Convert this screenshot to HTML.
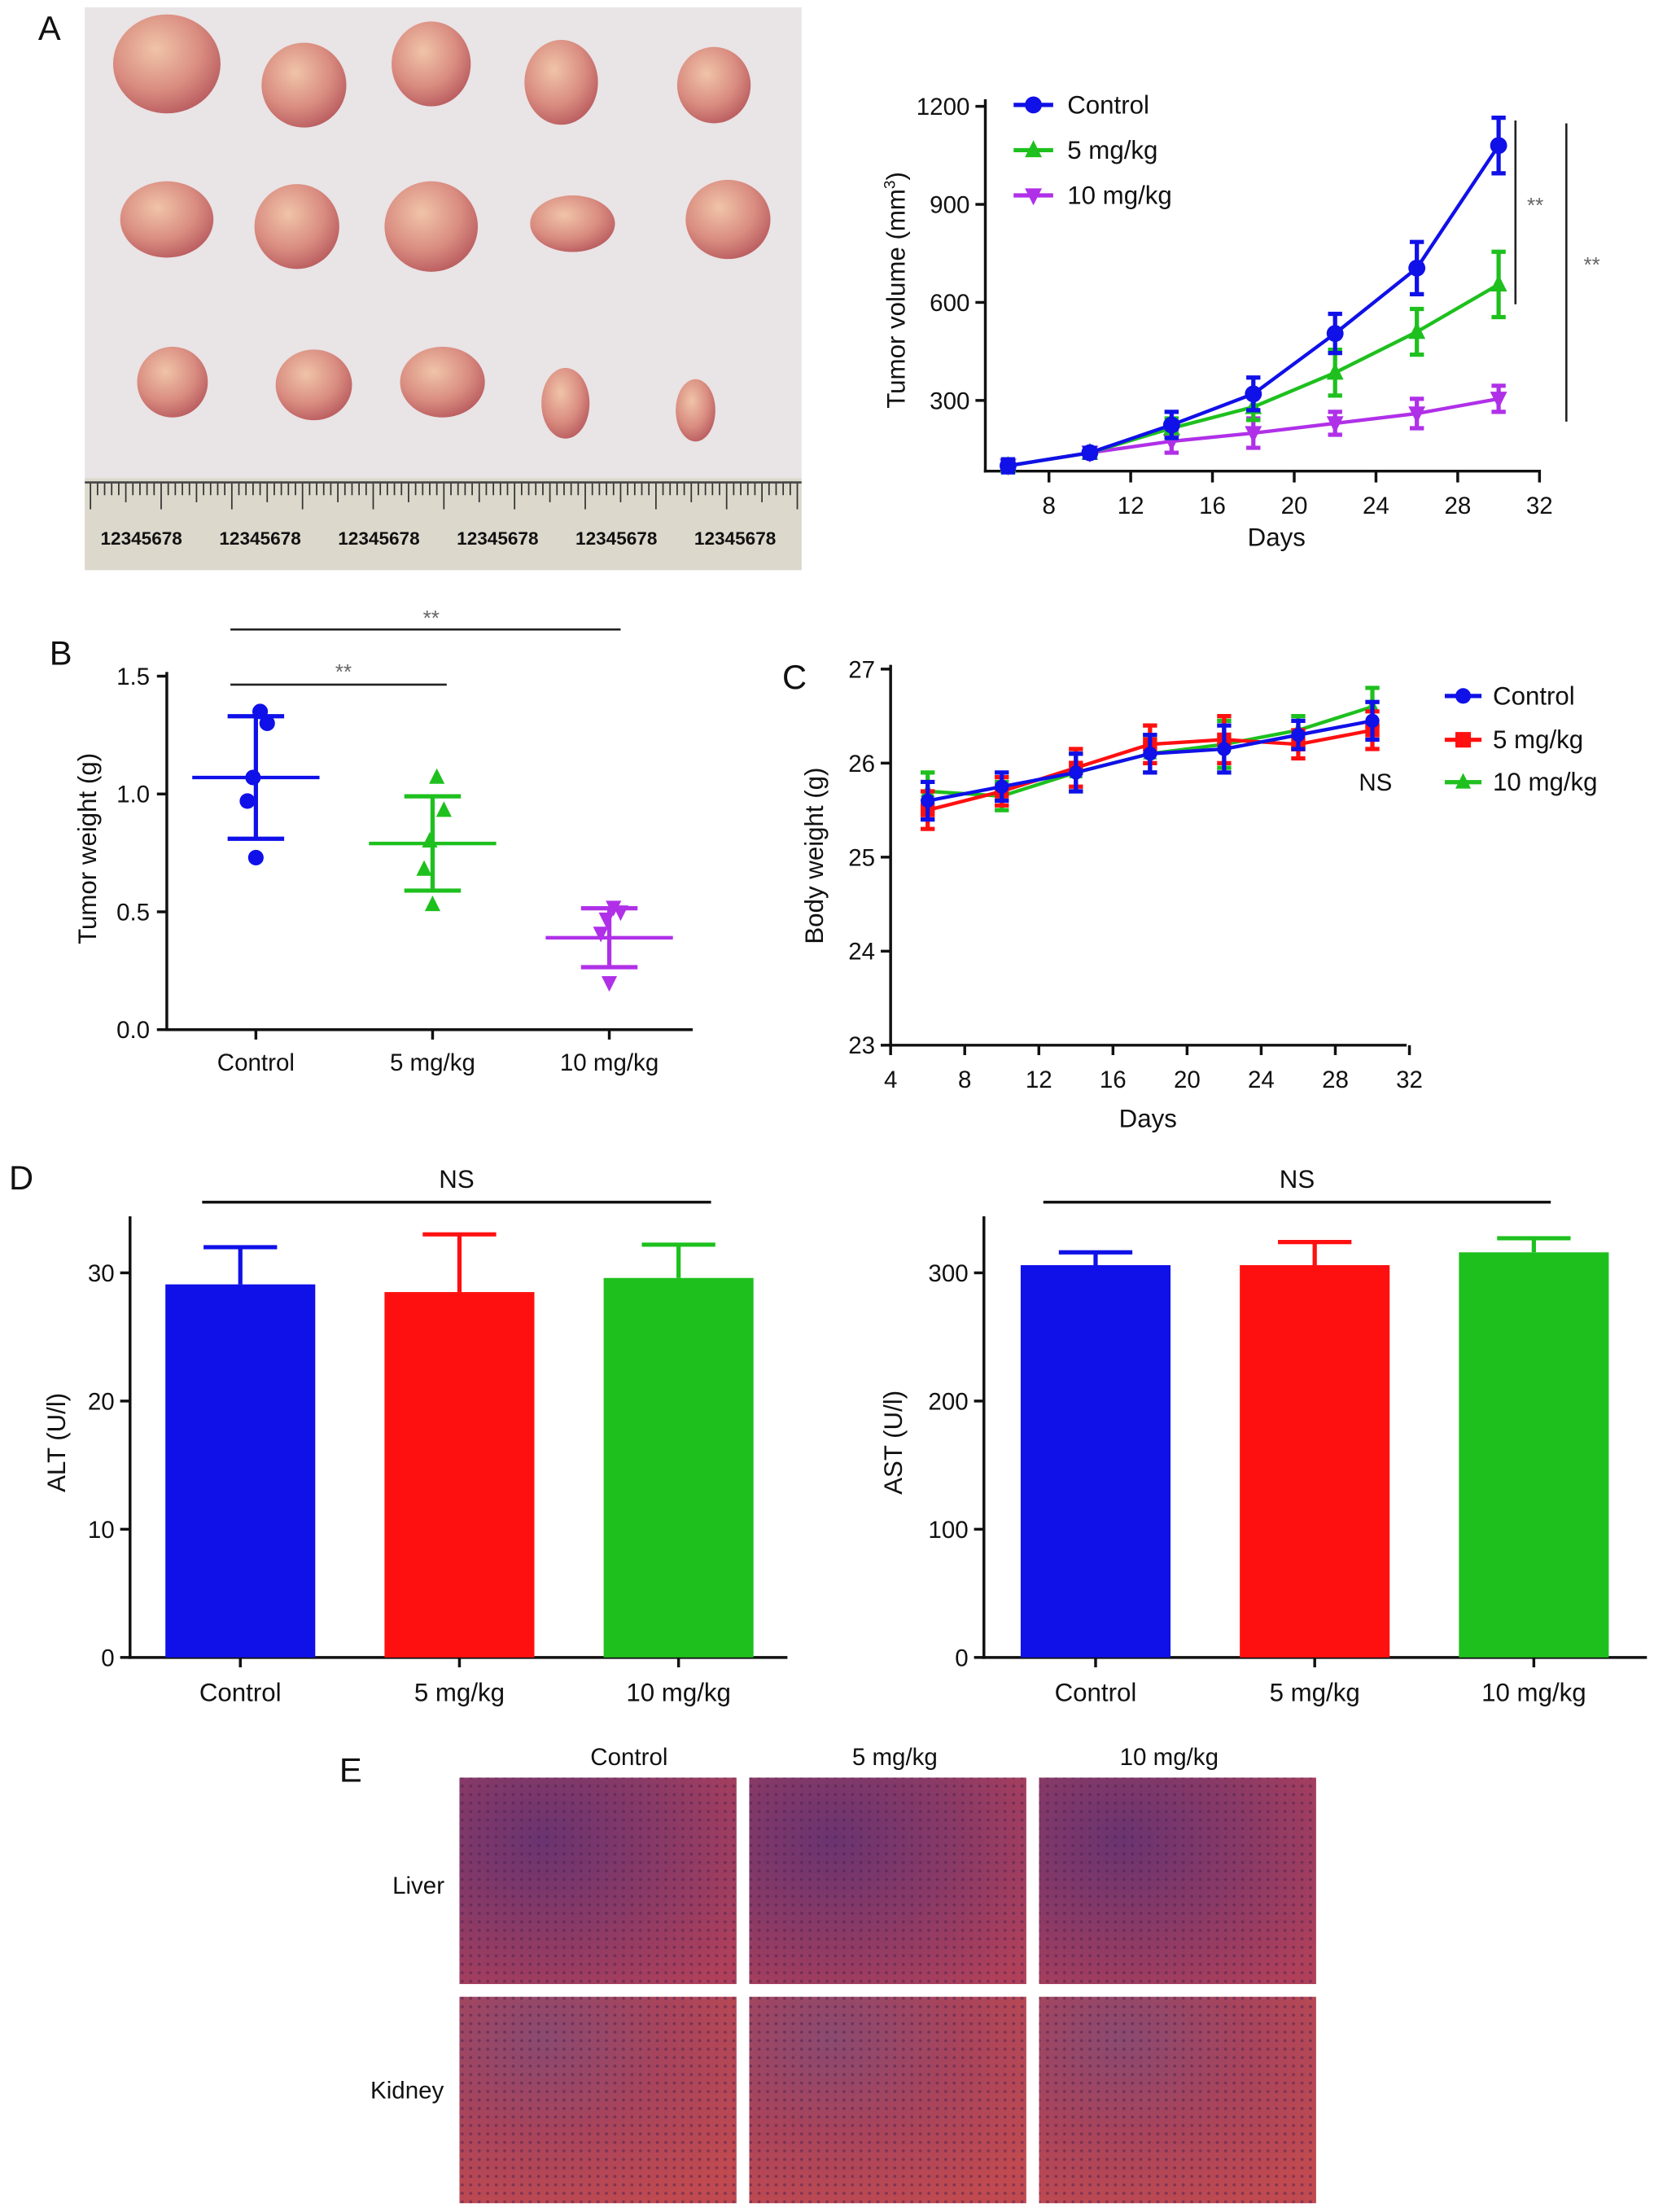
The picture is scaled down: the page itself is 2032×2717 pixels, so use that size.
<!DOCTYPE html>
<html><head><meta charset="utf-8"><style>
html,body{margin:0;padding:0;background:#fff}
svg{display:block;font-family:"Liberation Sans",Arial,sans-serif}
</style></head><body>
<svg id="fig" width="2032" height="2717" viewBox="0 0 1170 1564" xmlns="http://www.w3.org/2000/svg">
<defs>
<radialGradient id="tum" cx="40%" cy="35%" r="70%"><stop offset="0" stop-color="#f0c4a8"/><stop offset="0.6" stop-color="#d98c80"/><stop offset="1" stop-color="#b85a5e"/></radialGradient>
<radialGradient id="liv" cx="30%" cy="30%" r="90%"><stop offset="0" stop-color="#6a3470"/><stop offset="0.5" stop-color="#8a3a66"/><stop offset="1" stop-color="#b0405a"/></radialGradient>
<radialGradient id="kid" cx="30%" cy="20%" r="90%"><stop offset="0" stop-color="#8a4a70"/><stop offset="0.5" stop-color="#a8445c"/><stop offset="1" stop-color="#c04a50"/></radialGradient>
<pattern id="cells" width="6" height="6" patternUnits="userSpaceOnUse"><circle cx="3" cy="3" r="1.1" fill="#4a2050" opacity="0.5"/></pattern>
</defs>
<g id="root"></g>
</svg>
<script>
// ---- data arrays ----
const volDays=[6,10,14,18,22,26,30];
const volControl=[100,140,225,320,505,705,1080];
const volControlErr=[20,15,40,50,60,80,85];
const vol5=[100,140,215,280,385,510,655];
const vol5Err=[20,15,30,40,70,70,100];
const vol10=[100,140,175,200,230,260,305];
const vol10Err=[15,15,35,45,35,45,40];
const volTicksY=[300,600,900,1200];
const daysTicksA=[8,12,16,20,24,28,32];

const wCats=["Control","5 mg/kg","10 mg/kg"];
const wControl=[1.35,1.30,1.07,0.97,0.73];
const w5=[1.07,0.93,0.80,0.68,0.53];
const w10=[0.52,0.50,0.47,0.41,0.20];
const wMean=[1.07,0.79,0.39];
const wSd=[0.26,0.20,0.125];
const wTicks=[0.0,0.5,1.0,1.5];

const bwDays=[6,10,14,18,22,26,30];
const bwControl=[25.6,25.75,25.9,26.1,26.15,26.3,26.45];
const bw5=[25.5,25.7,25.95,26.2,26.25,26.2,26.35];
const bw10=[25.7,25.65,25.9,26.1,26.2,26.35,26.6];
const bwErr=[0.2,0.15,0.2,0.2,0.25,0.15,0.2];
const bwTicksY=[23,24,25,26,27];
const bwTicksX=[4,8,12,16,20,24,28,32];

const dCats=["Control","5 mg/kg","10 mg/kg"];
const altVals=[29.1,28.5,29.6];
const altErr=[2.9,4.5,2.6];
const altTicks=[0,10,20,30];
const astVals=[306,306,316];
const astErr=[10,18,11];
const astTicks=[0,100,200,300];

const BLUE="#1010e8",GREEN="#1ec01e",PURP="#b030e8",RED="#ff1010";
const root=document.getElementById('root');
const NS="http://www.w3.org/2000/svg";
function el(tag,attrs,parent,txt){const e=document.createElementNS(NS,tag);for(const k in attrs)e.setAttribute(k,attrs[k]);if(txt!==undefined)e.textContent=txt;(parent||root).appendChild(e);return e;}
function grp(name){const g=el('g',{});


return g;}
function txt(g,x,y,s,size,name,anchor,extra){const t=el('text',Object.assign({x:x,y:y,'font-size':size,'text-anchor':anchor||'middle',fill:'#111'},extra||{}),g,s);


return t;}
function line(g,x1,y1,x2,y2,c,w){return el('line',{x1,y1,x2,y2,stroke:c||'#111','stroke-width':w||2},g);}
function marker(g,type,x,y,c,r){r=r||5;
 if(type==='circle')return el('circle',{cx:x,cy:y,r:r,fill:c},g);
 if(type==='square')return el('rect',{x:x-r,y:y-r,width:2*r,height:2*r,fill:c},g);
 if(type==='up')return el('polygon',{points:`${x},${y-r-1} ${x-r},${y+r-1} ${x+r},${y+r-1}`,fill:c},g);
 return el('polygon',{points:`${x},${y+r+1} ${x-r},${y-r+1} ${x+r},${y-r+1}`,fill:c},g);}
function ebar(g,x,y1,y2,c,hw){line(g,x,y1,x,y2,c,3);line(g,x-hw,y1,x+hw,y1,c,3);line(g,x-hw,y2,x+hw,y2,c,3);}

// panel letters
const L=grp('panel-letters');
txt(L,35,28,"A",24,'panel-a-label');txt(L,43,470,"B",24,'panel-b-label');txt(L,562,487,"C",24,'panel-c-label');txt(L,15,841,"D",24,'panel-d-label');txt(L,248,1260,"E",24,'panel-e-label');

// ---- Panel A photo ----
const P=grp('tumor-photo');
el('rect',{x:60,y:5,width:507,height:398,fill:'#e9e4e6'},P);
el('rect',{x:60,y:338,width:507,height:65,fill:'#dcd8cc'},P);
const tum=[[118,45,38,35],[215,60,30,30],[305,45,28,30],[397,58,26,30],[505,60,26,27],[118,155,33,27],[210,160,30,30],[305,160,33,32],[405,158,30,20],[515,155,30,28],[122,270,25,25],[222,272,27,25],[313,270,30,25],[400,285,17,25],[492,290,14,22]];
tum.forEach(t=>el('ellipse',{cx:t[0],cy:t[1],rx:t[2],ry:t[3],fill:'url(#tum)'},P));
for(let i=0;i<101;i++){const x=64+i*5;line(P,x,341,x,i%10==0?360:(i%5==0?355:350),'#333',1);}
for(let k=0;k<6;k++){txt(P,100+k*84,385,"12345678",13,'ruler-digits','middle',{'font-weight':'bold'});}
line(P,60,341,567,341,'#444',1.5);

// ---- Panel A chart ----
const A=grp('tumor-volume-chart');
const ax=d=>742+(d-8)*(1089-742)/24, ay=v=>283-(v-300)*(283-75)/900;
line(A,697,70,697,334);line(A,696,333,1090,333);
volTicksY.forEach(v=>{line(A,690,ay(v),697,ay(v));txt(A,686,ay(v)+6,v,17,'y-tick-label','end');});
daysTicksA.forEach(d=>{line(A,ax(d),333,ax(d),341);txt(A,ax(d),363,d,17,'x-tick-label');});
txt(A,903,386,"Days",18,'x-axis-title');
const yt=txt(A,0,0,"",18,'y-axis-title','middle',{transform:'translate(640,205) rotate(-90)'});
yt.innerHTML='Tumor volume (mm<tspan font-size="11" dy="-7">3</tspan><tspan dy="7">)</tspan>';
[[vol10,vol10Err,PURP,'down','series-10mg'],[vol5,vol5Err,GREEN,'up','series-5mg'],[volControl,volControlErr,BLUE,'circle','series-control']].forEach(s=>{
 const g=grp(s[4]);A.appendChild(g);
 el('polyline',{points:volDays.map((d,i)=>ax(d)+','+ay(s[0][i])).join(' '),fill:'none',stroke:s[2],'stroke-width':2.5},g);
 volDays.forEach((d,i)=>{ebar(g,ax(d),ay(s[0][i]+s[1][i]),ay(s[0][i]-s[1][i]),s[2],5);marker(g,s[3],ax(d),ay(s[0][i]),s[2],6);});
});
[["Control",BLUE,'circle',74],["5 mg/kg",GREEN,'up',106],["10 mg/kg",PURP,'down',138]].forEach((l,i)=>{
 const g=grp('legend-entry');A.appendChild(g);line(g,717,l[3],745,l[3],l[1],3);marker(g,l[2],731,l[3],l[1],6);txt(g,755,l[3]+6,l[0],18,'legend-label','start');});
line(A,1072,85,1072,215,'#222',1.5);txt(A,1086,150,"**",15,'significance-mark','middle',{fill:'#666'});
line(A,1108,87,1108,298,'#222',1.5);txt(A,1126,192,"**",15,'significance-mark','middle',{fill:'#666'});

// ---- Panel B ----
const B=grp('tumor-weight-chart');
const bx=i=>181+i*125, by=v=>728-v*(728-478)/1.5;
line(B,118,475,118,729);line(B,117,728,490,728);
wTicks.forEach(v=>{line(B,111,by(v),118,by(v));txt(B,106,by(v)+6,v.toFixed(1),17,'y-tick-label','end');});
wCats.forEach((c,i)=>{line(B,bx(i),728,bx(i),735);txt(B,bx(i),757,c,17,'x-tick-label');});
txt(B,0,0,"Tumor weight (g)",18,'y-axis-title','middle',{transform:'translate(68,600) rotate(-90)'});
[[wControl,BLUE,'circle'],[w5,GREEN,'up'],[w10,PURP,'down']].forEach((s,i)=>{
 const g=grp('group-'+i);B.appendChild(g);
 const off=[3,8,-2,-6,0];
 s[0].forEach((v,j)=>marker(g,s[2],bx(i)+off[j],by(v),s[1],5.5));
 line(g,bx(i)-45,by(wMean[i]),bx(i)+45,by(wMean[i]),s[1],2.5);
 ebar(g,bx(i),by(wMean[i]+wSd[i]),by(wMean[i]-wSd[i]),s[1],20);
});
line(B,163,445,439,445,'#222',1.5);txt(B,305,442,"**",15,'significance-mark','middle',{fill:'#666'});
line(B,163,484,316,484,'#222',1.5);txt(B,243,480,"**",15,'significance-mark','middle',{fill:'#666'});

// ---- Panel C ----
const C=grp('body-weight-chart');
const cx=d=>630+(d-4)*(997-630)/28, cy=v=>739-(v-23)*(739-473)/4;
line(C,630,470,630,740);line(C,629,739,995,739);
bwTicksY.forEach(v=>{line(C,623,cy(v),630,cy(v));txt(C,619,cy(v)+6,v,17,'y-tick-label','end');});
bwTicksX.forEach(d=>{line(C,cx(d),739,cx(d),746);txt(C,cx(d),769,d,17,'x-tick-label');});
txt(C,812,797,"Days",18,'x-axis-title');
txt(C,0,0,"Body weight (g)",18,'y-axis-title','middle',{transform:'translate(582,605) rotate(-90)'});
[[bw10,GREEN,'up','series-10mg'],[bw5,RED,'square','series-5mg'],[bwControl,BLUE,'circle','series-control']].forEach(s=>{
 const g=grp(s[3]);C.appendChild(g);
 el('polyline',{points:bwDays.map((d,i)=>cx(d)+','+cy(s[0][i])).join(' '),fill:'none',stroke:s[1],'stroke-width':2.5},g);
 bwDays.forEach((d,i)=>{ebar(g,cx(d),cy(s[0][i]+bwErr[i]),cy(s[0][i]-bwErr[i]),s[1],5);marker(g,s[2],cx(d),cy(s[0][i]),s[1],5);});
});
[["Control",BLUE,'circle',492],["5 mg/kg",RED,'square',523],["10 mg/kg",GREEN,'up',553]].forEach(l=>{
 const g=grp('legend-entry');C.appendChild(g);line(g,1022,l[3],1048,l[3],l[1],3);marker(g,l[2],1035,l[3],l[1],5.5);txt(g,1056,l[3]+6,l[0],18,'legend-label','start');});
txt(C,973,559,"NS",17,'ns-label');

// ---- Panel D ----
function barChart(name,x0,xEnd,vals,errs,ticks,max,bx0,label,lx,nsx1,nsx2){
 const g=grp(name);
 const y=v=>1172-v*(1172-900)/max;
 line(g,x0,860,x0,1173);line(g,x0-1,1172,xEnd,1172);
 ticks.forEach(v=>{line(g,x0-7,y(v),x0,y(v));txt(g,x0-11,y(v)+6,v,17,'y-tick-label','end');});
 const cols=[BLUE,RED,GREEN];
 vals.forEach((v,i)=>{const x=bx0+i*155;
  const b=el('rect',{x:x,y:y(v),width:106,height:1172-y(v),fill:cols[i]},g);
  
  
  line(g,x+53,y(v),x+53,y(v+errs[i]),cols[i],3);line(g,x+27,y(v+errs[i]),x+79,y(v+errs[i]),cols[i],3);
  line(g,x+53,1172,x+53,1179);txt(g,x+53,1203,dCats[i],18,'x-tick-label');});
 txt(g,0,0,label,18,'y-axis-title','middle',{transform:`translate(${lx},1020) rotate(-90)`});
 line(g,nsx1,850,nsx2,850,'#111',2);txt(g,(nsx1+nsx2)/2,840,"NS",18,'ns-label');
}
barChart('alt-bar-chart',92,557,altVals,altErr,altTicks,30,117,"ALT (U/l)",46,143,503);
barChart('ast-bar-chart',696,1165,astVals,astErr,astTicks,300,722,"AST (U/l)",638,738,1097);

// ---- Panel E ----
const E=grp('histology-panel');
["Control","5 mg/kg","10 mg/kg"].forEach((c,i)=>txt(E,[445,633,827][i],1248,c,17,'column-label'));
txt(E,296,1339,"Liver",17,'row-label');txt(E,288,1484,"Kidney",17,'row-label');
[325,530,735].forEach((x,i)=>{[[1257,'liv'],[1412,'kid']].forEach(r=>{
 const g=grp(r[1]==='liv'?'liver-image':'kidney-image');E.appendChild(g);
 el('rect',{x:x,y:r[0],width:196,height:146,fill:`url(#${r[1]})`},g);
 el('rect',{x:x,y:r[0],width:196,height:146,fill:'url(#cells)'},g);});});
</script>
</body></html>
